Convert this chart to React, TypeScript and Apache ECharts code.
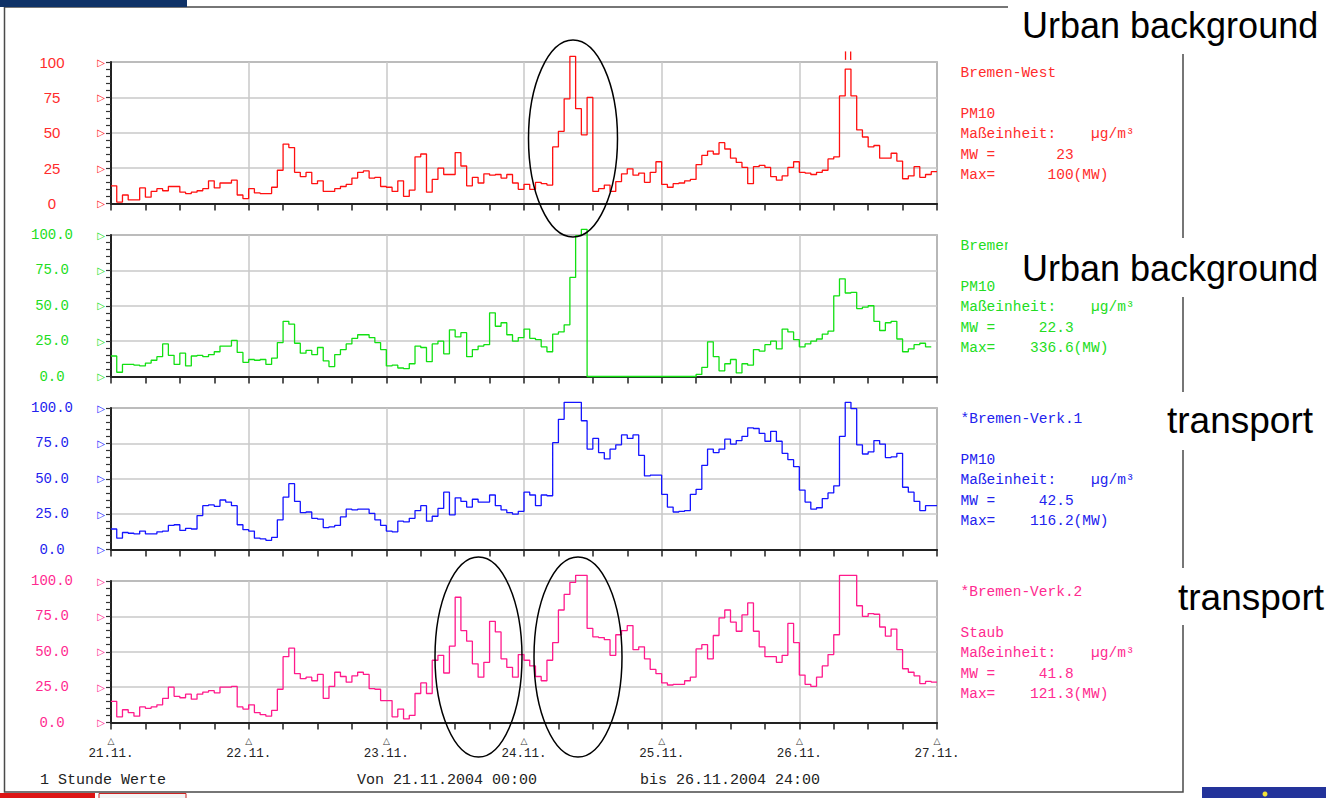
import React, { useEffect, useRef } from "react";
import * as echarts from "echarts";

// ---------- data (hourly values, 21.11.2004 00:00 .. 26.11.2004 24:00) ----------
const dayLabels = ["21.11.", "22.11.", "23.11.", "24.11.", "25.11.", "26.11.", "27.11."];

const bremenWest = [
  12.5, 1, 6, 2.5, 2.5, 11, 4.5, 8.5, 10.5, 9, 12, 12, 8, 7, 8, 9, 10.5, 16, 11, 14.5, 14.5, 16.5, 6, 3.5,
  10.5, 7.5, 7, 7, 11.5, 23.5, 42, 39.5, 22, 19, 22, 14, 16, 8.5, 8.5, 10.5, 12, 13.5, 18, 22, 23, 18, 18.5, 12,
  11.5, 8.5, 16, 5, 9.5, 33, 35, 8, 17, 25, 20.5, 20.5, 36, 26.5, 12.5, 18.5, 14.5, 21, 20, 20.5, 18, 20.5, 14.5, 10,
  13.5, 10, 15, 14, 13, 40, 51, 74, 104, 67, 48.5, 75, 8.5, 10.5, 13, 8.5, 15.5, 21, 24.5, 20, 21.5, 15, 22, 29.5,
  13.5, 11.5, 14, 14.5, 16, 17, 27.5, 34, 37, 35, 43, 38.5, 32, 29, 25.5, 14, 26, 27, 25.5, 19, 16.5, 19.5, 25.5, 29.5,
  22, 21.5, 20.5, 22, 23.5, 31.5, 33, 76, 95, 76, 52, 47, 40, 41, 32, 32, 35.5, 30, 17.5, 19.5, 26, 18.5, 20.5, 22.5,
];

const bremenOst = [
  14.5, 3, 8.5, 8.5, 8, 7.5, 9.5, 11.5, 14, 23, 15, 8.5, 16.5, 7.5, 14.5, 15, 14, 15.5, 17.5, 21.5, 21.5, 25.5, 17, 10,
  12, 11.5, 12, 8.5, 13, 24, 39, 37, 23.5, 16.5, 18.5, 15.5, 20.5, 11, 7, 15.5, 19, 23, 27, 29.5, 29.5, 27.5, 24, 19,
  7.5, 8, 6, 5.5, 9, 21.5, 20.5, 10.5, 23, 25, 16, 33, 28, 31, 14, 19, 21.5, 22.5, 45, 35.5, 38, 29.5, 25, 27.5,
  33.5, 27, 26, 21, 17.5, 30, 31.5, 36.5, 70, 99.5, 104, 0, 0, 0, 0, 0, 0, 0, 0, 0, 0, 0, 0,
  0, 0, 0, 0, 0, 0, 0, 1.5, 6.5, 24.5, 14, 4, 9, 12, 2.5, 9, 8, 19, 18, 22.5, 25, 19.5, 33.5, 31.5,
  26, 21, 23, 25, 26.5, 30, 32, 57, 69, 59, 59.5, 48, 49, 50, 39, 32.5, 38, 39, 26.5, 17.5, 19.5, 22.5, 23.5, 21,
];

const verk1 = [
  14.5, 8, 12, 11.5, 11, 13, 11, 11, 12.5, 13, 17, 17.5, 13.5, 15, 14.5, 24, 31, 31.5, 30.5, 35, 33.5, 31, 17.5, 14,
  13, 8, 7.5, 6.5, 8.5, 21, 37, 46.5, 34, 26, 26.5, 22, 21.5, 15.5, 16, 17, 23, 28.5, 28, 28.5, 28.5, 25.5, 21, 17,
  13, 12.5, 20, 19.5, 22, 27.5, 31, 20, 23.5, 29, 40.5, 24.5, 36.5, 34, 30, 35.5, 33.5, 33.5, 38.5, 31, 28, 26, 25, 27,
  40.5, 38.5, 31, 38.5, 38, 75.5, 92, 104, 104, 104, 91, 71, 78.5, 68.5, 64, 71, 74, 81, 78.5, 81, 66.5, 52, 52.5, 52.5,
  39, 30, 26.5, 27, 27.5, 39, 42.5, 59.5, 71, 68.5, 71, 78, 74.5, 77, 80, 86, 85.5, 82, 76.5, 83.5, 76.5, 68, 63.5, 58.5,
  42, 33.5, 28.5, 29.5, 36, 40, 45, 80, 104, 99.5, 74, 67.5, 69, 77, 74.5, 65, 65.5, 68, 44, 40.5, 34, 27.5, 31, 31,
];

const verk2 = [
  15, 4, 9, 7, 4.5, 11, 10, 11, 12.5, 17, 25, 18.5, 17.5, 20, 16.5, 20, 21.5, 22.5, 21, 25, 25, 25.5, 11, 9.5,
  12.5, 7, 5.5, 4.5, 8.5, 23.5, 46.5, 52.5, 34.5, 31, 32, 29.5, 34, 17, 25.5, 35.5, 32.5, 28.5, 33, 35.5, 34, 24, 23.5, 15.5,
  15.5, 4, 9.5, 2.5, 5, 20.5, 28, 20.5, 44, 47.5, 35, 54, 88.5, 65, 57.5, 41.5, 32, 42.5, 71.5, 64, 45, 39, 32, 48,
  44, 40, 32.5, 29.5, 44, 56.5, 79.5, 90.5, 99, 104, 104, 66.5, 60.5, 60, 58.5, 47.5, 62, 65, 68.5, 51.5, 53.5, 45, 37.5, 34.5,
  28, 26.5, 27, 27, 29.5, 32, 52, 55, 45, 61.5, 74, 79.5, 71, 64.5, 76, 84.5, 64.5, 53.5, 46.5, 46.5, 42.5, 47.5, 70, 56.5,
  33.5, 27, 25.5, 32, 40, 48, 62, 104, 104, 104, 82.5, 75, 77, 76.5, 67.5, 61, 66, 51.5, 38, 35.5, 33, 27.5, 29, 28.5,
];

const infoWest = ["Bremen-West", "", "PM10", "Maßeinheit:    µg/m³", "MW =       23", "Max=      100(MW)"];
const infoOst = ["Bremen-Ost", "", "PM10", "Maßeinheit:    µg/m³", "MW =     22.3", "Max=    336.6(MW)"];
const infoVerk1 = ["*Bremen-Verk.1", "", "PM10", "Maßeinheit:    µg/m³", "MW =     42.5", "Max=    116.2(MW)"];
const infoVerk2 = ["*Bremen-Verk.2", "", "Staub", "Maßeinheit:    µg/m³", "MW =     41.8", "Max=    121.3(MW)"];

const footerTexts = ["1 Stunde Werte", "Von 21.11.2004 00:00", "bis 26.11.2004 24:00"];
const bigLabels = ["Urban background", "Urban background", "transport", "transport"];
const clipMarkHour = 128; // "||" over-range marker of Bremen-West
const clipMarkRange = [101.5, 107.5];

// ---------- layout ----------
const PLOT_LEFT = 111;
const PLOT_WIDTH = 826;
const PLOT_HEIGHT = 141.5;
const PANEL_TOPS = [62, 235, 408, 581];
const MONO = "'Liberation Mono', 'DejaVu Sans Mono', monospace";
const SANS = "'Liberation Sans', Arial, sans-serif";

const panels = [
  { values: bremenWest, color: "#ff1010", label: "#ff2c2c", info: infoWest, decimals: 0 },
  { values: bremenOst, color: "#12e012", label: "#22dd22", info: infoOst, decimals: 1 },
  { values: verk1, color: "#1414ff", label: "#2222ee", info: infoVerk1, decimals: 1 },
  { values: verk2, color: "#ff1a8c", label: "#ff2a90", info: infoVerk2, decimals: 1 },
];

function buildGraphic(markPx: number[][] | null) {
  const graphic: any[] = [];
  graphic.push({
    type: "rect",
    shape: { x: 4.5, y: 7, width: 1178.5, height: 785 },
    style: { fill: "none", stroke: "#4a4a4a", lineWidth: 1.5 },
    z: 1,
  });
  graphic.push({ type: "rect", shape: { x: 0, y: 0, width: 187, height: 7 }, style: { fill: "#0f3267" }, z: 2 });
  graphic.push({ type: "rect", shape: { x: 0, y: 793, width: 95, height: 5 }, style: { fill: "#dd1515" }, z: 2 });
  graphic.push({
    type: "rect",
    shape: { x: 99, y: 793.5, width: 87, height: 6 },
    style: { fill: "#f4f4f4", stroke: "#cc2222", lineWidth: 1 },
    z: 2,
  });
  graphic.push({ type: "rect", shape: { x: 1202, y: 787, width: 124, height: 11 }, style: { fill: "#23339a" }, z: 2 });
  graphic.push({ type: "circle", shape: { cx: 1265, cy: 794, r: 2.5 }, style: { fill: "#f2e23a" }, z: 3 });

  panels.forEach((p, i) => {
    graphic.push({
      type: "text",
      x: 960.5,
      y: PANEL_TOPS[i] + 0.25,
      style: {
        text: p.info.join("\n"),
        fill: p.label,
        font: `14.5px ${MONO}`,
        lineHeight: 20.5,
        verticalAlign: "top",
        align: "left",
      },
      z: 5,
    });
  });

  const boxes = [
    { x: 1008, y: 0, w: 318, h: 54, tx: 1022, ty: 25.2, size: 36 },
    { x: 1008, y: 238, w: 318, h: 59, tx: 1022, ty: 268.5, size: 36 },
    { x: 1158, y: 392, w: 168, h: 58, tx: 1167, ty: 420.8, size: 37 },
    { x: 1170, y: 568, w: 156, h: 57, tx: 1178, ty: 597.5, size: 37 },
  ];
  boxes.forEach((b, i) => {
    graphic.push({ type: "rect", shape: { x: b.x, y: b.y, width: b.w, height: b.h }, style: { fill: "#fff" }, z: 10 });
    graphic.push({
      type: "text",
      x: b.tx,
      y: b.ty,
      style: { text: bigLabels[i], fill: "#000", font: `${b.size}px ${SANS}`, verticalAlign: "middle", align: "left" },
      z: 11,
    });
  });

  const footerX = [40, 357, 640];
  footerTexts.forEach((t, i) => {
    graphic.push({
      type: "text",
      x: footerX[i],
      y: 780,
      style: { text: t, fill: "#222", font: `15px ${MONO}`, verticalAlign: "middle", align: "left" },
      z: 5,
    });
  });

  const ellipses = [
    { cx: 573, cy: 138.5, rx: 44.5, ry: 98.5 },
    { cx: 478.5, cy: 657, rx: 43.5, ry: 100 },
    { cx: 578, cy: 657, rx: 44, ry: 100 },
  ];
  ellipses.forEach((e) => {
    graphic.push({ type: "ellipse", shape: e, style: { fill: "none", stroke: "#000", lineWidth: 1.5 }, z: 20 });
  });

  if (markPx) {
    markPx.forEach(([x, y1, y2]) => {
      graphic.push({
        type: "line",
        shape: { x1: x, y1, x2: x, y2 },
        style: { stroke: panels[0].color, lineWidth: 1.3 },
        z: 6,
      });
    });
  }
  return graphic;
}

function buildOption() {
  const grid = panels.map((_, i) => ({
    left: PLOT_LEFT,
    top: PANEL_TOPS[i],
    width: PLOT_WIDTH,
    height: PLOT_HEIGHT,
    show: true,
    borderColor: "#333",
    borderWidth: 1.2,
    backgroundColor: "transparent",
  }));

  const xAxis = panels.map((_, i) => ({
    gridIndex: i,
    type: "value",
    min: 0,
    max: 144,
    interval: 24,
    axisLine: { show: true, onZero: false, lineStyle: { color: "#222", width: 2 } },
    axisTick: { show: true, length: 7, lineStyle: { color: "#222", width: 1.5 } },
    minorTick: { show: true, splitNumber: 4, length: 7, lineStyle: { color: "#222", width: 1.5 } },
    splitLine: { show: true, lineStyle: { color: "#c9c9c9", width: 1.5 } },
    minorSplitLine: { show: false },
    axisLabel:
      i === 3
        ? {
            show: true,
            margin: 12,
            formatter: (v: number) => `{t|△}\n{d|${dayLabels[Math.round(v / 24)]}}`,
            rich: {
              t: { fontSize: 9, fontFamily: "'DejaVu Sans'", color: "#333", lineHeight: 12, align: "center" },
              d: { fontSize: 12.5, fontFamily: MONO, color: "#222", lineHeight: 15, align: "center" },
            },
          }
        : { show: false },
  }));

  const yAxis: any[] = [];
  panels.forEach((p, i) => {
    yAxis.push({
      gridIndex: i,
      type: "value",
      position: "left",
      min: 0,
      max: 100,
      interval: 25,
      axisLine: { show: true, lineStyle: { color: "#222", width: 2 } },
      axisTick: { show: true, length: 5, lineStyle: { color: "#333", width: 1.2 } },
      minorTick: { show: true, splitNumber: 5, length: 5, lineStyle: { color: "#333", width: 1.2 } },
      splitLine: { show: true, lineStyle: { color: "#c9c9c9", width: 1.5 } },
      axisLabel: {
        show: true,
        color: p.label,
        fontFamily: p.decimals === 0 ? SANS : MONO,
        fontSize: p.decimals === 0 ? 15 : 14,
        align: "center",
        margin: 59,
        formatter: (v: number) => v.toFixed(p.decimals),
      },
    });
    yAxis.push({
      gridIndex: i,
      type: "value",
      position: "left",
      offset: 0,
      min: 0,
      max: 100,
      interval: 25,
      axisLine: { show: false },
      axisTick: { show: false },
      splitLine: { show: false },
      axisLabel: {
        show: true,
        color: p.color,
        fontFamily: "'DejaVu Sans'",
        fontSize: 10,
        margin: 6,
        formatter: () => "▷",
      },
    });
  });

  const series = panels.map((p, i) => {
    const data = p.values.map((v, h) => [h, v]);
    data.push([p.values.length, p.values[p.values.length - 1]]);
    return {
      type: "line",
      xAxisIndex: i,
      yAxisIndex: 2 * i,
      step: "end",
      data,
      symbol: "none",
      showSymbol: false,
      clip: false,
      lineStyle: { color: p.color, width: 1.3 },
      z: 3,
    };
  });

  return {
    animation: false,
    backgroundColor: "#fff",
    grid,
    xAxis,
    yAxis,
    series,
    graphic: buildGraphic(null),
  };
}

export default function App() {
  const ref = useRef<HTMLDivElement>(null);
  useEffect(() => {
    if (!ref.current) return;
    const chart = echarts.init(ref.current, undefined, { renderer: "svg" });
    chart.setOption(buildOption() as any);
    // over-range marker "||" placed through the chart's own scales
    const marks: number[][] = [clipMarkHour + 0.05, clipMarkHour + 0.95].map((h) => {
      const a = chart.convertToPixel({ xAxisIndex: 0, yAxisIndex: 0 }, [h, clipMarkRange[0]]) as number[];
      const b = chart.convertToPixel({ xAxisIndex: 0, yAxisIndex: 0 }, [h, clipMarkRange[1]]) as number[];
      return [a[0], a[1], b[1]];
    });
    chart.setOption({ graphic: buildGraphic(marks) } as any);
    return () => chart.dispose();
  }, []);
  return (
    <div
      ref={ref}
      style={{ position: "absolute", left: 0, top: 0, width: 1326, height: 798, background: "#fff" }}
    />
  );
}
